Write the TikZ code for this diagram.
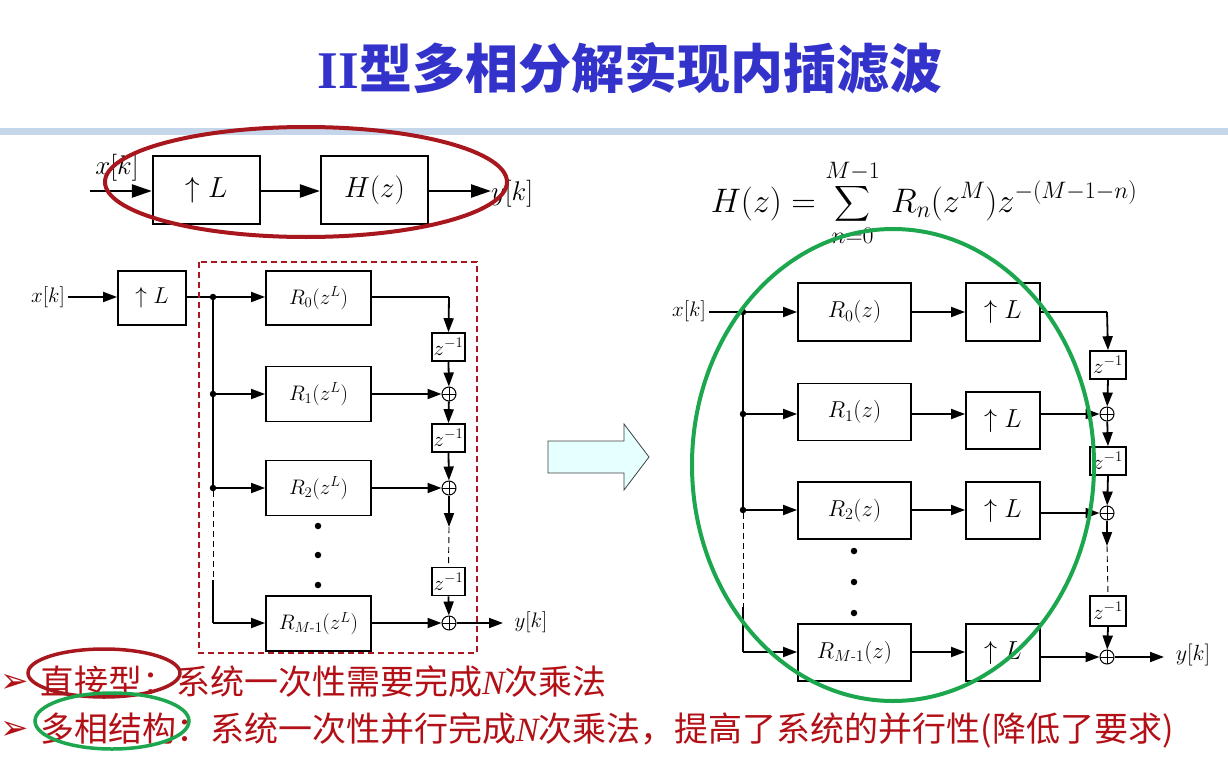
\RequirePackage{fix-cm}
\documentclass[tikz,border=0pt]{standalone}
\usepackage{amsmath}
\usepackage{fontspec}
\newfontfamily\cjk{Noto Sans CJK SC}
\newfontfamily\tms{Liberation Serif}
\newfontfamily\djv{DejaVu Sans}
\usetikzlibrary{arrows.meta}
\definecolor{titleblue}{RGB}{51,51,204}
\definecolor{barblue}{RGB}{197,213,234}
\definecolor{txtred}{RGB}{178,16,22}
\definecolor{ellred}{RGB}{168,22,30}
\definecolor{ellgreen}{RGB}{28,166,78}
\definecolor{arrfill}{RGB}{230,255,255}
\newcommand\fsz[1]{\fontsize{#1}{#1}\selectfont}
\tikzset{
  box/.style={draw, line width=1.8pt, inner sep=0pt},
  sig/.style={line width=1.8pt},
  arr/.style={sig, -{Triangle[length=14pt,width=10pt]}},
  bigarr/.style={line width=2.4pt, -{Triangle[length=20pt,width=13pt]}},
  adder/.style={circle, draw, line width=1pt, minimum size=14pt, inner sep=0pt,
    path picture={\draw[line width=0.9pt] (path picture bounding box.north) -- (path picture bounding box.south)
      (path picture bounding box.west) -- (path picture bounding box.east);}},
  dotj/.style={circle, fill, inner sep=0pt, minimum size=6.5pt},
  dashsig/.style={line width=0.9pt, dash pattern=on 6pt off 4pt},
  ring/.style={line width=4pt},
}
\begin{document}
\begin{tikzpicture}[x=1pt,y=-1pt]
\useasboundingbox (0,0) rectangle (1228,768);
% title and bar
\node[text=titleblue] (title) at (630,68) {\fsz{53pt}{\tms\bfseries II}{\cjk\bfseries 型多相分解实现内插滤波}};
\fill[barblue] (0,127.5) rectangle (1228,134.5);

% ---------- top diagram ----------
\coordinate (tin) at (90,191);
\node[box, line width=2.2pt, minimum width=107pt, minimum height=68pt] (tu) at (206.5,190) {\fsz{29pt}$\uparrow L$};
\node[box, line width=2.2pt, minimum width=107pt, minimum height=68pt] (th) at (374.5,190) {\fsz{29pt}$H(z)$};
\coordinate (tout) at (491,191);
\node (txk) at (117,168) {\fsz{27pt}$x[k]$};
\node (tyk) at (512,194) {\fsz{27pt}$y[k]$};
\draw[bigarr] (tin) -- (tu.west |- tin);
\draw[bigarr] (tu.east |- tin) -- (th.west |- tin);
\draw[bigarr] (th.east |- tin) -- (tout);

% ---------- formula ----------
\node (formula) at (924,203) {\fsz{34pt}$\displaystyle H(z)=\sum_{n=0}^{M-1}\,R_n(z^M)z^{-(M-1-n)}$};

% ---------- left diagram ----------
\node (lxk) at (48,297) {\fsz{21pt}$x[k]$};
\node[box, minimum width=68pt, minimum height=54pt] (lu) at (152,298) {\fsz{23pt}$\uparrow L$};
\node[dotj] (lj0) at (213,297) {};
\node[dotj] (lj1) at (213,394) {};
\node[dotj] (lj2) at (213,488) {};
\coordinate (ljd) at (213,580);
\coordinate (ljc) at (213,623);
\node[box, minimum width=105pt, minimum height=54pt] (lr0) at (318.5,298) {\fsz{21pt}$R_0(z^L)$};
\node[box, minimum width=105pt, minimum height=55pt] (lr1) at (318.5,394) {\fsz{21pt}$R_1(z^L)$};
\node[box, minimum width=105pt, minimum height=55pt] (lr2) at (318.5,488) {\fsz{21pt}$R_2(z^L)$};
\node[box, minimum width=105pt, minimum height=55pt] (lrm) at (318.5,623.5) {\fsz{21pt}$R_{M\text{-}1}(z^L)$};
\node[dotj] (ld1) at (318,526) {};
\node[dotj] (ld2) at (318,555) {};
\node[dotj] (ld3) at (318,585) {};
\coordinate (lc0) at (449,297);
\node[box, line width=1.6pt, minimum width=33pt, minimum height=28pt] (lz1) at (448.5,347) {\fsz{21pt}$z^{-1}$};
\node[adder] (la1) at (449,394) {};
\node[box, line width=1.6pt, minimum width=33pt, minimum height=28pt] (lz2) at (448.5,438) {\fsz{21pt}$z^{-1}$};
\node[adder] (la2) at (449,488) {};
\coordinate (ldz) at (449,527);
\node[box, line width=1.6pt, minimum width=33pt, minimum height=28pt] (lz3) at (448.5,581.5) {\fsz{21pt}$z^{-1}$};
\node[adder] (la3) at (449,623) {};
\coordinate (lout) at (503,623);
\node (lyk) at (531,622) {\fsz{21pt}$y[k]$};

\draw[arr] (lxk.east) -- (lu.west |- lxk.east);
\draw[sig] (lu.east |- lj0) -- (lj0);
\draw[arr] (lj0) -- (lr0.west |- lj0);
\draw[sig] (lj0) -- (lj1) -- (lj2);
\draw[dashsig] (lj2) -- (ljd);
\draw[sig] (ljd) -- (ljc);
\draw[arr] (ljc) -- (lrm.west |- ljc);
\draw[arr] (lj1) -- (lr1.west |- lj1);
\draw[arr] (lj2) -- (lr2.west |- lj2);
\draw[sig] (lr0.east |- lc0) -- (lc0);
\draw[arr] (lc0) -- (lz1.north);
\draw[arr] (lz1.south) -- (la1);
\draw[arr] (lr1.east |- la1) -- (la1);
\draw[arr] (la1) -- (lz2.north);
\draw[arr] (lz2.south) -- (la2);
\draw[arr] (lr2.east |- la2) -- (la2);
\draw[arr] (la2) -- (ldz);
\draw[dashsig] (ldz) -- (lz3.north);
\draw[arr] (lz3.south) -- (la3);
\draw[arr] (lrm.east |- la3) -- (la3);
\draw[arr] (la3) -- (lout);
\draw[ellred, line width=1.5pt, dash pattern=on 6pt off 4pt] (199,262) rectangle (477,653);

% ---------- block arrow ----------
\draw[line width=0.8pt, draw=black!75, fill=arrfill] (548,441) -- (624,441) -- (624,424) -- (649,457) -- (624,490) -- (624,473) -- (548,473) -- cycle;

% ---------- right diagram ----------
\node (rxk) at (689,311) {\fsz{21pt}$x[k]$};
\node[dotj] (rj0) at (743,312) {};
\node[dotj] (rj1) at (743,414) {};
\node[dotj] (rj2) at (743,510) {};
\coordinate (rjd) at (743,607);
\coordinate (rjc) at (743,652);
\node[box, minimum width=113pt, minimum height=58pt] (rr0) at (854.5,312) {\fsz{23pt}$R_0(z)$};
\node[box, minimum width=113pt, minimum height=57pt] (rr1) at (854.5,412) {\fsz{23pt}$R_1(z)$};
\node[box, minimum width=113pt, minimum height=57pt] (rr2) at (854.5,510.5) {\fsz{23pt}$R_2(z)$};
\node[box, minimum width=113pt, minimum height=57pt] (rrm) at (854.5,652.5) {\fsz{23pt}$R_{M\text{-}1}(z)$};
\node[dotj] (rd1) at (854,551) {};
\node[dotj] (rd2) at (854,582) {};
\node[dotj] (rd3) at (854,613) {};
\node[box, minimum width=74pt, minimum height=58pt] (ru1) at (1003,312) {\fsz{26pt}$\uparrow L$};
\node[box, minimum width=74pt, minimum height=57pt] (ru2) at (1003,420.5) {\fsz{26pt}$\uparrow L$};
\node[box, minimum width=74pt, minimum height=57pt] (ru3) at (1003,510.5) {\fsz{26pt}$\uparrow L$};
\node[box, minimum width=74pt, minimum height=57pt] (ru4) at (1003,652.5) {\fsz{26pt}$\uparrow L$};
\coordinate (rc0) at (1107,312);
\node[box, line width=1.6pt, minimum width=36pt, minimum height=28pt] (rz1) at (1108,365) {\fsz{21pt}$z^{-1}$};
\node[adder] (ra1) at (1107,414) {};
\node[box, line width=1.6pt, minimum width=36pt, minimum height=28pt] (rz2) at (1108,461) {\fsz{21pt}$z^{-1}$};
\node[adder] (ra2) at (1107,513) {};
\coordinate (rdz) at (1107,546);
\node[box, line width=1.6pt, minimum width=36pt, minimum height=30pt] (rz3) at (1108,611) {\fsz{21pt}$z^{-1}$};
\node[adder] (ra3) at (1107,657) {};
\coordinate (rout) at (1164,657);
\node (ryk) at (1193,655) {\fsz{22pt}$y[k]$};

\draw[sig] (rxk.east |- rj0) -- (rj0);
\draw[arr] (rj0) -- (rr0.west |- rj0);
\draw[sig] (rj0) -- (rj1) -- (rj2);
\draw[dashsig] (rj2) -- (rjd);
\draw[sig] (rjd) -- (rjc);
\draw[arr] (rjc) -- (rrm.west |- rjc);
\draw[arr] (rj1) -- (rr1.west |- rj1);
\draw[arr] (rj2) -- (rr2.west |- rj2);
\draw[arr] (rr0.east |- rj0) -- (ru1.west |- rj0);
\draw[arr] (rr1.east |- rj1) -- (ru2.west |- rj1);
\draw[arr] (rr2.east |- rj2) -- (ru3.west |- rj2);
\draw[arr] (rrm.east |- rjc) -- (ru4.west |- rjc);
\draw[sig] (ru1.east |- rc0) -- (rc0);
\draw[arr] (rc0) -- (rz1.north);
\draw[arr] (rz1.south) -- (ra1);
\draw[arr] (ru2.east |- ra1) -- (ra1);
\draw[arr] (ra1) -- (rz2.north);
\draw[arr] (rz2.south) -- (ra2);
\draw[arr] (ru3.east |- ra2) -- (ra2);
\draw[arr] (ra2) -- (rdz);
\draw[dashsig] (rdz) -- (rz3.north);
\draw[arr] (rz3.south) -- (ra3);
\draw[arr] (ru4.east |- ra3) -- (ra3);
\draw[arr] (ra3) -- (rout);

% ---------- bottom text ----------
\node[text=txtred, inner sep=0pt] (b1) at (15,683) {\fsz{34pt}\djv ➢};
\node[text=txtred, anchor=west, inner sep=0pt] (l1) at (40,682) {\fsz{34pt}\cjk 直接型：系统一次性需要完成{\tms\itshape N}次乘法};
\node[text=txtred, inner sep=0pt] (b2) at (15,730) {\fsz{34pt}\djv ➢};
\node[text=txtred, anchor=west, inner sep=0pt] (l2) at (40,730) {\fsz{34pt}\cjk 多相结构：系统一次性并行完成{\tms\itshape N}次乘法，提高了系统的并行性(降低了要求)};

% ---------- rings ----------
\draw[ring, ellred] (306,182) ellipse [x radius=201, y radius=55];
\draw[ring, ellgreen] (893,465) ellipse [x radius=201, y radius=236];
\draw[ellred, line width=3.5pt] (104,673) ellipse [x radius=76, y radius=24];
\draw[ellgreen, line width=3.5pt] (112,721) ellipse [x radius=77, y radius=28];
\end{tikzpicture}
\end{document}
